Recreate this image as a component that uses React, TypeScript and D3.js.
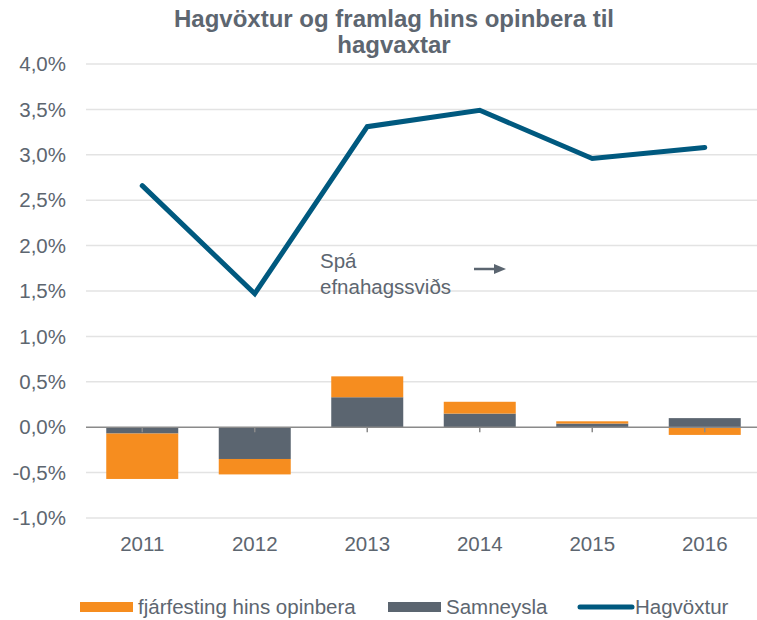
import React from "react";
import * as d3 from "d3";

const years = ["2011", "2012", "2013", "2014", "2015", "2016"];
const samneysla = [-0.07, -0.35, 0.33, 0.15, 0.04, 0.1];
const fjarfesting = [-0.5, -0.17, 0.23, 0.13, 0.025, -0.085];
const hagvoxtur = [2.66, 1.47, 3.31, 3.49, 2.96, 3.08];
const yTicks = [-1, -0.5, 0, 0.5, 1, 1.5, 2, 2.5, 3, 3.5, 4];

const W = 757;
const H = 620;
const TEXT = "#5d6670";
const ORANGE = "#f68d1f";
const GREY = "#5b6570";
const BLUE = "#00597f";
const FONT = "'Liberation Sans', Arial, sans-serif";
const FS = 20.5;

export default function App() {
  const x = d3.scaleBand<string>().domain(years).range([86, 761]).paddingInner(0.36).paddingOuter(0.18);
  const y = d3.scaleLinear().domain([-1, 4]).range([518, 64]);
  const fmt = (v: number) => d3.format(".1f")(v).replace("\u2212", "-").replace(".", ",") + "%";
  const cx = (d: string) => (x(d) as number) + x.bandwidth() / 2;

  const line = d3
    .line<number>()
    .x((_, i) => cx(years[i]))
    .y((v) => y(v));

  const bars: { key: string; x: number; y0: number; y1: number; color: string }[] = [];
  years.forEach((yr, i) => {
    let pos = 0;
    let neg = 0;
    [
      { v: samneysla[i], c: GREY },
      { v: fjarfesting[i], c: ORANGE },
    ].forEach((s, j) => {
      let a: number, b: number;
      if (s.v >= 0) {
        a = pos;
        b = pos + s.v;
        pos = b;
      } else {
        a = neg;
        b = neg + s.v;
        neg = b;
      }
      bars.push({ key: yr + j, x: x(yr) as number, y0: y(a), y1: y(b), color: s.c });
    });
  });

  return (
    <svg width={W} height={H} style={{ position: "absolute", left: 0, top: 0, background: "#fff" }} fontFamily={FONT}>
      <text x={394} y={27} textAnchor="middle" fontSize={24} fontWeight="bold" fill={TEXT}>
        Hagvöxtur og framlag hins opinbera til
      </text>
      <text x={394} y={53} textAnchor="middle" fontSize={24} fontWeight="bold" fill={TEXT}>
        hagvaxtar
      </text>

      {yTicks.map((t) => (
        <g key={t}>
          {t !== 0 && <line x1={86} x2={W} y1={y(t)} y2={y(t)} stroke="#e3e3e3" strokeWidth={1.5} />}
          <text x={66} y={y(t)} dy="0.35em" textAnchor="end" fontSize={FS} fill={TEXT}>
            {fmt(t)}
          </text>
        </g>
      ))}

      {bars.map((b) => (
        <rect
          key={b.key}
          x={b.x}
          width={x.bandwidth()}
          y={Math.min(b.y0, b.y1)}
          height={Math.abs(b.y1 - b.y0)}
          fill={b.color}
        />
      ))}

      <line x1={86} x2={W} y1={y(0)} y2={y(0)} stroke="#8a8a8a" strokeWidth={1.5} />
      {years.map((yr) => (
        <line key={yr} x1={cx(yr)} x2={cx(yr)} y1={y(0)} y2={y(0) + 5} stroke="#8a8a8a" strokeWidth={1.5} />
      ))}

      <path d={line(hagvoxtur) || ""} fill="none" stroke={BLUE} strokeWidth={5} strokeLinecap="round" strokeLinejoin="miter" />

      {years.map((yr) => (
        <text key={yr} x={cx(yr)} y={551} textAnchor="middle" fontSize={FS} fill={TEXT}>
          {yr}
        </text>
      ))}

      <text x={320} y={268} fontSize={FS} fill={TEXT}>
        Spá
      </text>
      <text x={320} y={294} fontSize={FS} fill={TEXT}>
        efnahagssviðs
      </text>
      <line x1={474} x2={496} y1={269} y2={269} stroke={GREY} strokeWidth={2.5} />
      <path d="M494,264 L506,269 L494,274 Z" fill={GREY} />

      <rect x={80} y={602} width={53} height={10} fill={ORANGE} />
      <text x={138} y={614} fontSize={FS} fill={TEXT}>
        fjárfesting hins opinbera
      </text>
      <rect x={388} y={602} width={53} height={10} fill={GREY} />
      <text x={446} y={614} fontSize={FS} fill={TEXT}>
        Samneysla
      </text>
      <line x1={580} x2={632} y1={607} y2={607} stroke={BLUE} strokeWidth={5} strokeLinecap="round" />
      <text x={635} y={614} fontSize={FS} fill={TEXT}>
        Hagvöxtur
      </text>
    </svg>
  );
}
